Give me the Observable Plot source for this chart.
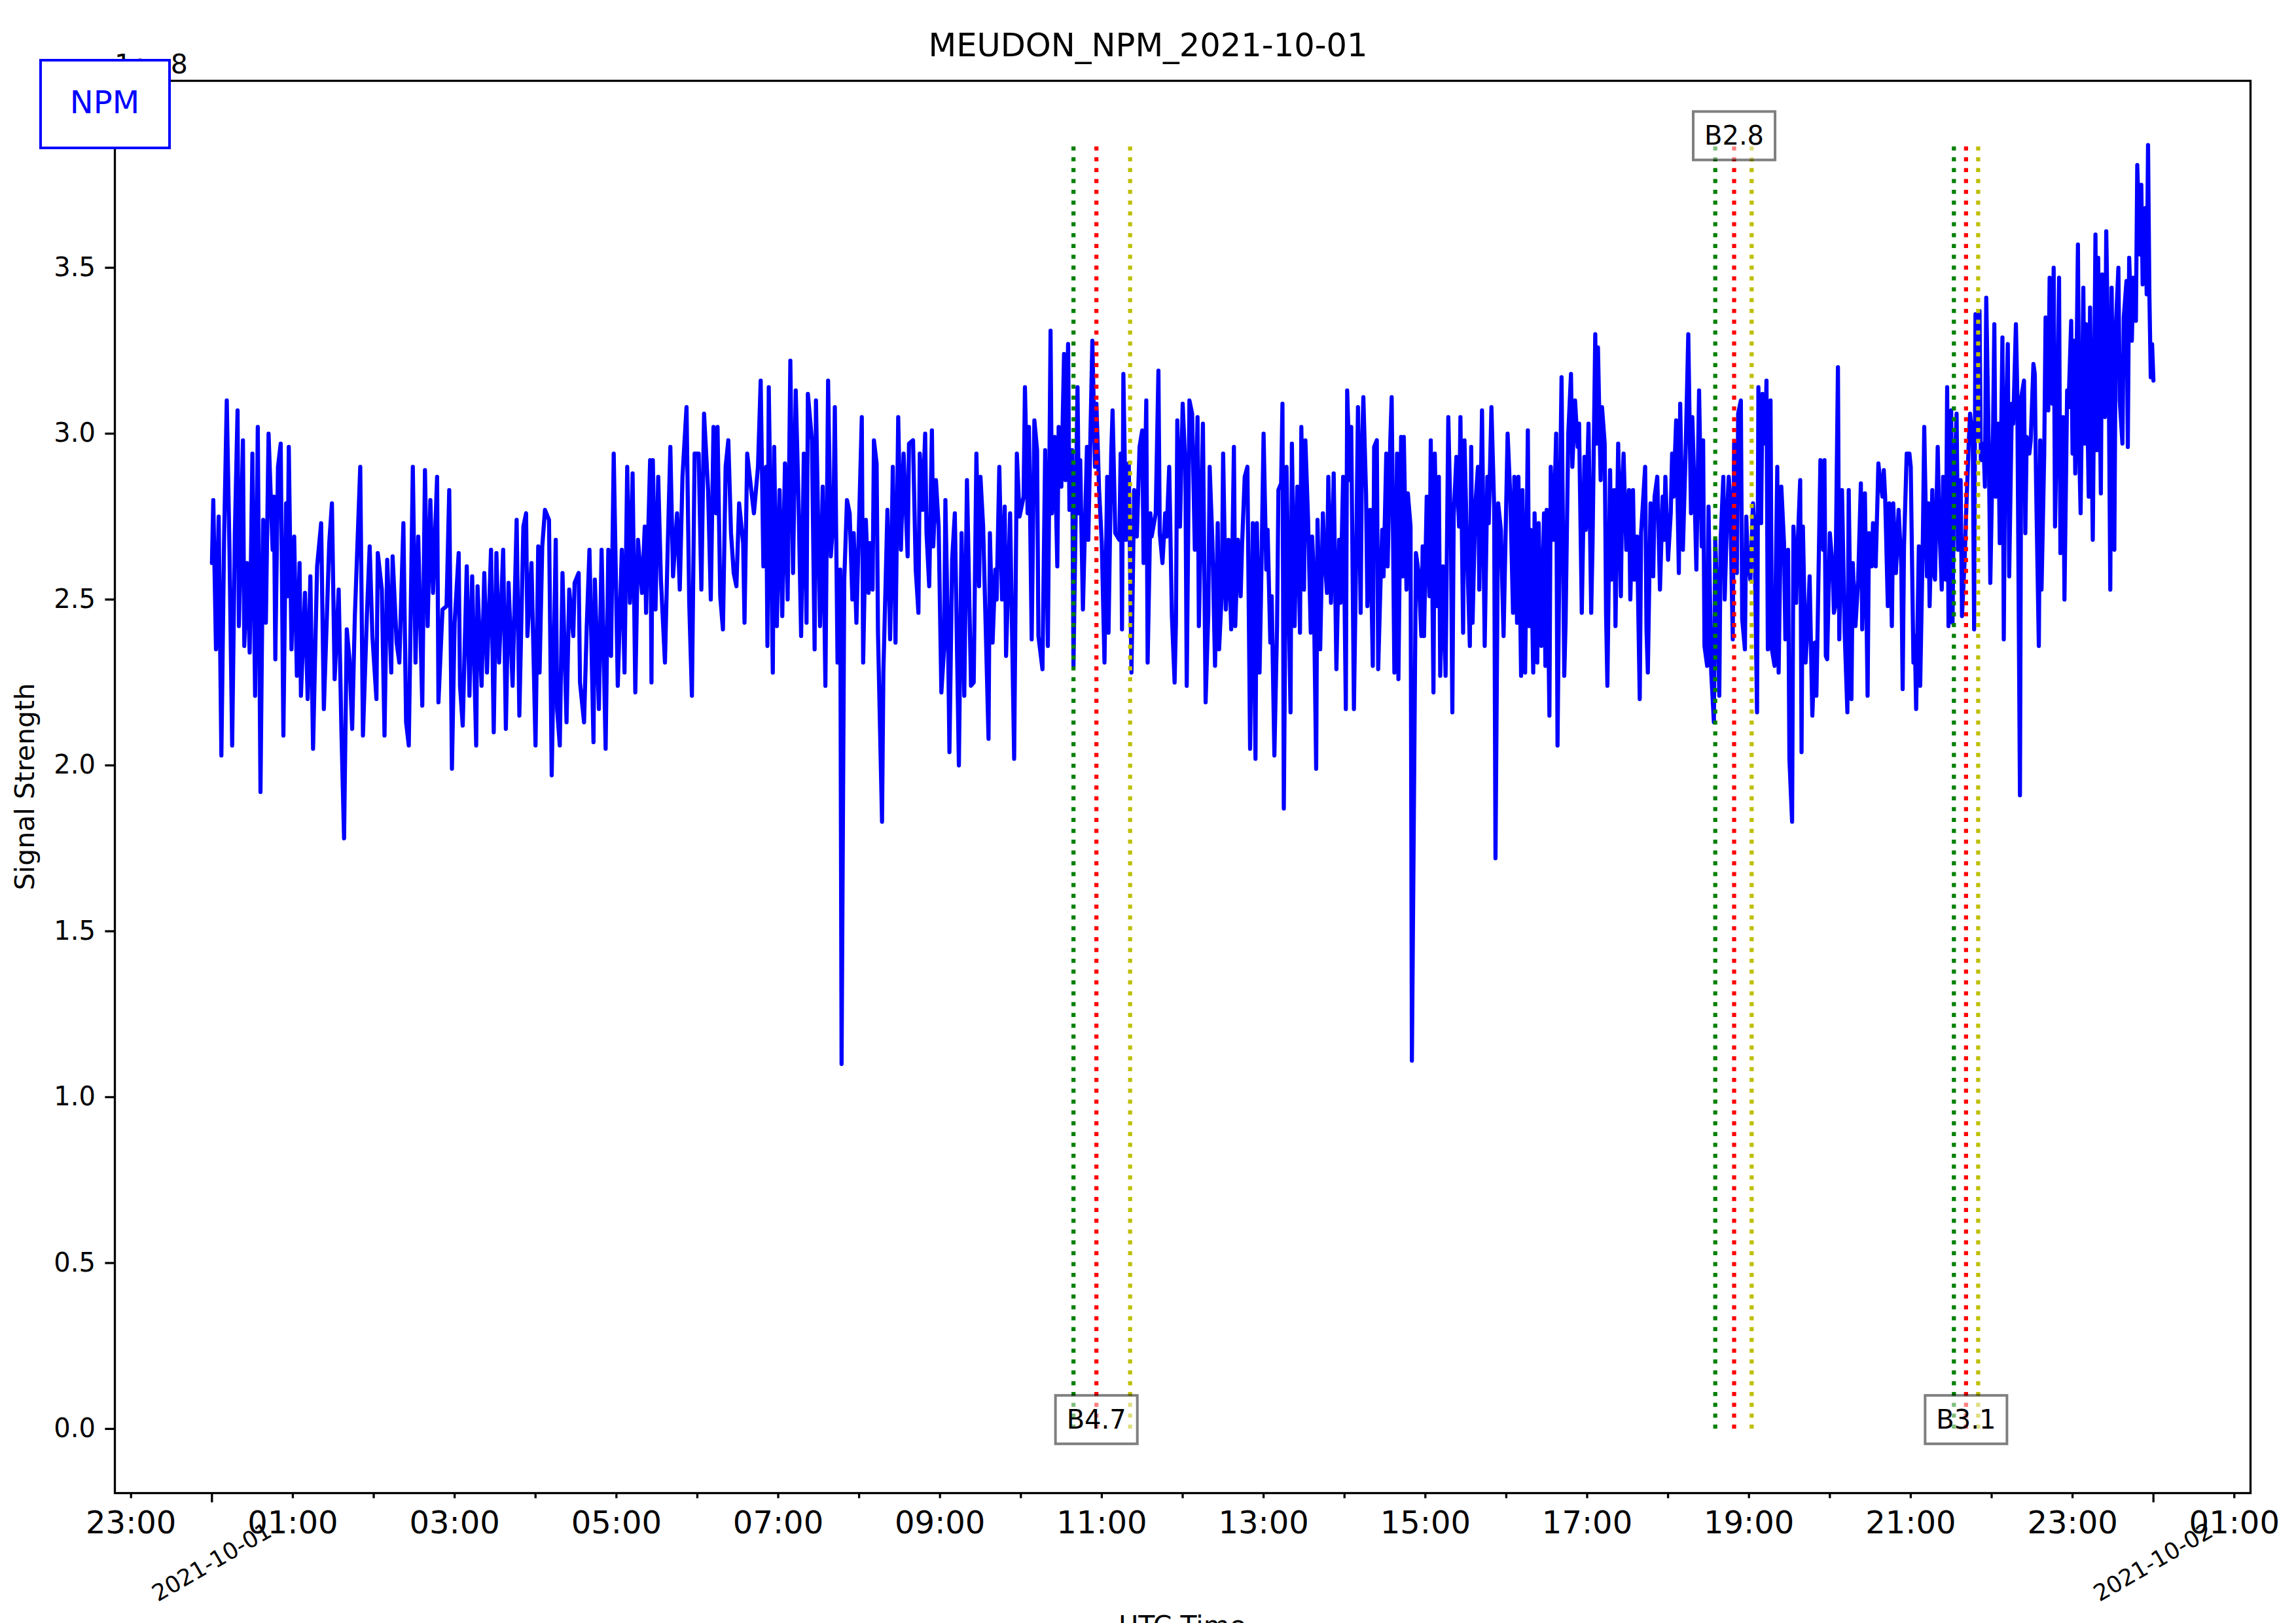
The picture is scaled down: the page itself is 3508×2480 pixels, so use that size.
<!DOCTYPE html>
<html>
<head>
<meta charset="utf-8">
<script src="https://cdn.jsdelivr.net/npm/d3@7"></script>
<script src="https://cdn.jsdelivr.net/npm/@observablehq/plot@0.6"></script>
<style>
html, body { margin: 0; padding: 0; background: #ffffff; overflow: hidden; }
#chart { width: 3508px; height: 2480px; }
</style>
</head>
<body>
<div id="chart"></div>
<script>
// ---------- DATA (minutes after 2021-10-01 00:00 UTC, signal in units of 1e-8) ----------
const signalNight = [
[0,2.61],[1,2.80],[3,2.35],[5,2.75],[7,2.03],[9,2.68],[11,3.10],[13,2.65],[15,2.06],[17,2.70],
[19,3.07],[20,2.42],[23,2.98],[24,2.36],[26,2.61],[28,2.34],[30,2.94],[32,2.21],[34,3.02],[36,1.92],
[38,2.74],[40,2.43],[42,3.00],[45,2.65],[46,2.81],[47,2.32],[49,2.90],[51,2.97],[53,2.09],[55,2.79],
[56,2.51],[57,2.96],[59,2.35],[61,2.69],[63,2.27],[65,2.61],[66,2.21],[69,2.52],[71,2.20],[73,2.57],
[75,2.05],[78,2.60],[81,2.73],[83,2.17],[87,2.67],[89,2.79],[91,2.26],[94,2.53],[96,2.11],[98,1.78],
[100,2.41],[102,2.32],[104,2.11],[106,2.45],[110,2.90],[112,2.09],[115,2.46],[117,2.66],[119,2.39],[122,2.20],
[123,2.64],[126,2.53],[128,2.09],[130,2.62],[133,2.28],[134,2.63],[137,2.37],[139,2.31],[142,2.73],[144,2.13],
[146,2.06],[149,2.90],[151,2.31],[153,2.69],[156,2.18],[158,2.89],[160,2.42],[162,2.80],[164,2.52],[167,2.87],
[168,2.19],[171,2.47],[174,2.48],[176,2.83],[178,1.99],[180,2.43],[183,2.64],[184,2.24],[186,2.12],[189,2.60],
[191,2.21],[193,2.57],[196,2.06],[197,2.54],[200,2.24],[202,2.58],[204,2.28],[207,2.65],[209,2.10],[211,2.64],
[213,2.31],[216,2.65],[218,2.11],[220,2.55],[223,2.24],[226,2.74],[228,2.15],[231,2.72],[233,2.76],[234,2.39],
[237,2.61],[240,2.06],[242,2.66],[243,2.28],[245,2.66],[247,2.77],[250,2.74],[252,1.97],[255,2.68],[256,2.17],
[258,2.06],[260,2.58],[263,2.13],[265,2.53],[268,2.39],[269,2.55],[272,2.58],[273,2.25],[276,2.13],[278,2.42],
[280,2.65],[283,2.07],[284,2.56],[287,2.17],[289,2.65],[292,2.05],[294,2.65],[296,2.33],[298,2.94],[301,2.24],
[304,2.65],[306,2.28],[308,2.90],[310,2.49],[312,2.88],[314,2.22],[316,2.68],[319,2.52],[321,2.72],[322,2.46],
[325,2.92],[326,2.25],[327,2.92],[329,2.47],[331,2.87],[333,2.56],[336,2.31],[338,2.65],[340,2.96],[342,2.57],
[345,2.76],[347,2.53],[349,2.87],[352,3.08],[354,2.49],[356,2.21],[358,2.94],[361,2.94],[363,2.53],[365,3.06],
[368,2.83],[370,2.50],[372,3.02],[374,2.76],[375,3.02],[377,2.51],[379,2.41],[381,2.90],[383,2.98],[385,2.70],
[387,2.58],[389,2.54],[391,2.79],[394,2.67],[395,2.43],[397,2.94],[400,2.83],[402,2.76],[405,2.90],[407,3.16],
[409,2.60],[411,2.90],[412,2.36],[413,3.14],[416,2.28],[417,2.96],[419,2.42],[421,2.83],[423,2.45],[425,2.91],
[427,2.50],[429,3.22],[431,2.58],[433,3.13],[435,2.81],[437,2.39],[439,2.94],[441,2.43],[442,3.12],[445,2.98],
[447,2.35],[448,3.10],[451,2.42],[453,2.84],[455,2.24],[457,3.16],[459,2.63],[461,2.75],[462,3.08],[464,2.31],
[466,2.59],[467,1.10]
];
const signalDay = [
[469,2.56],[471,2.80],[473,2.76],[475,2.50],[476,2.70],[478,2.43],[482,3.05],[483,2.31],[485,2.74],[487,2.52],
[488,2.67],[490,2.53],[491,2.98],[493,2.91],[494,2.40],[497,1.83],[498,2.28],[501,2.77],[503,2.38],[505,2.90],
[507,2.37],[509,3.05],[511,2.65],[513,2.94],[516,2.63],[517,2.97],[520,2.98],[522,2.59],[524,2.46],[525,2.94],
[527,2.77],[529,3.00],[530,2.70],[532,2.54],[534,3.01],[535,2.66],[537,2.86],[539,2.72],[541,2.22],[543,2.35],
[544,2.80],[546,2.37],[547,2.04],[549,2.62],[551,2.76],[554,2.00],[556,2.70],[558,2.21],[560,2.86],[563,2.24],
[565,2.25],[567,2.94],[569,2.54],[570,2.87],[572,2.72],[574,2.40],[576,2.08],[577,2.70],[579,2.37],[581,2.59],
[582,2.50],[584,2.90],[586,2.50],[588,2.78],[589,2.33],[592,2.76],[595,2.02],[597,2.94],[599,2.75],[602,2.81],
[603,3.14],[605,2.76],[606,3.02],[608,2.38],[610,3.04],[612,2.95],[613,2.39],[616,2.29],[618,2.95],[620,2.36],
[622,3.31],[623,2.76],[625,2.99],[627,2.60],[628,3.02],[630,2.84],[632,3.24],[633,2.86],[635,3.27],[636,2.77],
[638,2.95],[639,2.30],[642,3.14],[643,2.76],[644,2.92],[646,2.47],[649,2.96],[650,2.68],[653,3.28],[655,2.90],
[656,3.09],[658,2.83],[660,2.67],[662,2.31],[664,2.87],[665,2.40],[667,2.94],[668,3.07],[670,2.70],[673,2.68],
[674,2.94],[675,2.41],[676,3.18],[678,2.68],[680,2.91],[682,2.28],[684,2.83],[686,2.69],[688,2.96],[690,3.01],
[691,2.61],[693,3.10],[694,2.31],[696,2.76],[697,2.69],[700,2.76],[702,3.19],[703,2.70],[705,2.61],[707,2.76],
[708,2.69],[710,2.90],[712,2.45],[714,2.25],[715,2.43],[716,3.04],[718,2.72],[720,3.09],[722,2.90],[723,2.24],
[725,3.10],[727,3.06],[729,2.65],[731,3.05],[732,2.42],[735,3.03],[737,2.19],[739,2.46],[740,2.90],[742,2.68],
[744,2.30],[746,2.73],[747,2.35],[749,2.52],[750,2.94],[752,2.47],[754,2.68],[756,2.41],[758,2.96],[759,2.42],
[761,2.68],[763,2.51],[764,2.66],[766,2.87],[768,2.90],[770,2.05],[772,2.73],[774,2.02],[775,2.73],[777,2.28],
[778,2.49],[780,3.00],[782,2.59],[783,2.71],[785,2.37],[786,2.51],[788,2.03],[790,2.42],[791,2.83],[793,2.85],
[794,3.09],[795,1.87],[797,2.90],[800,2.16],[801,2.97],[803,2.42],[805,2.84],[807,2.40],[808,3.02],[810,2.53],
[811,2.98],[813,2.74],[815,2.40],[816,2.69],[817,2.60],[819,1.99],[820,2.74],[822,2.35],[824,2.76],[825,2.65],
[827,2.52],[828,2.87],[830,2.49],[832,2.88],[834,2.29],[836,2.68],[837,2.49],[839,2.87],[841,2.17],[842,3.13],
[844,2.86],[845,3.02],[847,2.17],[849,2.73],[850,3.08],[852,2.46],[853,2.95],[854,3.11],[856,2.82],[857,2.48],
[859,2.77],[861,2.30],[862,2.96],[864,2.98],[865,2.29],[867,2.59],[868,2.71],[869,2.57],[871,2.94],[872,2.60],
[874,2.98],[875,3.11],[877,2.28],[879,2.94],[880,2.26],[882,2.99],[883,2.57],[884,2.99],[886,2.53],[887,2.82],
[889,2.72],[890,1.11],[892,2.13],[893,2.64],[895,2.58],[897,2.39],[898,2.66],[899,2.39],[901,2.81],[903,2.51],
[904,2.98],[906,2.22],[907,2.94],[909,2.48],[910,2.87],[911,2.27],[913,2.60],[915,2.27],[917,3.05],[919,2.68],
[920,2.16],[921,2.75],[923,2.93],[925,2.72],[926,3.05],[928,2.40],[929,2.98],[931,2.64],[933,2.36],[934,2.96],
[935,2.43],[937,2.78],[939,2.90],[940,2.53],[942,3.07],[944,2.36],[946,2.87],[947,2.73],[949,3.08],[951,2.78],
[952,1.72],[954,2.79],[956,2.71],[958,2.39],[961,3.00],[963,2.81],[965,2.46],[966,2.87],[968,2.43],[969,2.87],
[971,2.27],[972,2.83],[974,2.28],[976,3.01],[977,2.42],[978,2.71],[980,2.28],[981,2.76],[983,2.31],[984,2.73],
[986,2.36],[988,2.76],[989,2.30],[990,2.77],[992,2.15],[993,2.90],[995,2.68],[997,3.00],[998,2.06],[1000,2.87],
[1001,3.17],[1003,2.27],[1004,2.43],[1006,3.00],[1008,3.18],[1009,2.90],[1011,3.10],[1013,2.96],[1014,3.03],[1016,2.46],
[1018,2.93],[1019,2.71],[1021,3.03],[1023,2.46],[1024,2.67],[1026,3.30],[1027,2.97]
];
const signalEvening = [
[1028,3.26],[1030,2.86],[1031,3.08],[1033,2.97],[1034,2.46],[1035,2.24],[1037,2.89],[1038,2.56],[1040,2.83],[1041,2.42],
[1043,2.97],[1045,2.51],[1046,2.84],[1047,2.94],[1049,2.65],[1051,2.83],[1052,2.50],[1054,2.83],[1055,2.56],[1057,2.69],
[1059,2.20],[1060,2.70],[1063,2.90],[1064,2.41],[1065,2.28],[1067,2.79],[1069,2.57],[1070,2.81],[1072,2.87],[1074,2.53],
[1076,2.81],[1077,2.68],[1078,2.87],[1080,2.62],[1082,2.76],[1083,2.94],[1084,2.81],[1086,3.04],[1088,2.58],[1089,3.09],
[1091,2.65],[1093,2.94],[1095,3.30],[1097,2.76],[1098,3.05],[1100,2.76],[1101,2.59],[1103,3.13],[1105,2.66],[1106,2.98],
[1107,2.36],[1109,2.30],[1110,2.78],[1112,2.28],[1114,2.13],[1115,2.68],[1116,2.56],[1118,2.21],[1119,2.68],[1121,2.87],
[1122,2.50],[1124,2.78],[1125,2.87],[1126,2.81],[1128,2.38],[1129,2.97],[1131,2.58],[1132,3.06],[1134,3.10],[1135,2.44],
[1137,2.35],[1138,2.75],[1139,2.63],[1141,2.56],[1143,2.79],[1144,2.72],[1146,2.16],[1147,3.14],[1149,2.73],[1150,3.12],
[1152,2.97],[1153,3.16],[1154,2.35],[1156,3.10],[1157,2.35],[1159,2.30],[1161,2.90],[1162,2.28],[1164,2.84],[1166,2.67],
[1167,2.38],[1169,2.65],[1170,2.02],[1172,1.83],[1173,2.72],[1175,2.49],[1176,2.65],[1178,2.86],[1179,2.04],[1180,2.72],
[1182,2.31],[1184,2.46],[1185,2.57],[1187,2.15],[1189,2.37],[1190,2.21],[1191,2.43],[1193,2.92],[1195,2.65],[1196,2.92],
[1197,2.33],[1198,2.32],[1200,2.70],[1202,2.60],[1203,2.46],[1204,2.48],[1206,3.20],[1207,2.38],[1209,2.83],[1211,2.40],
[1213,2.16],[1214,2.83],[1216,2.20],[1217,2.61],[1219,2.42],[1221,2.56],[1223,2.85],[1224,2.41],[1226,2.82],[1228,2.21],
[1229,2.70],[1231,2.60],[1232,2.73],[1234,2.60],[1236,2.91],[1237,2.87],[1239,2.81],[1240,2.89],[1241,2.81],[1243,2.48],
[1244,2.79],[1246,2.42],[1247,2.79],[1249,2.58],[1251,2.77],[1253,2.60],[1254,2.23],[1255,2.66],[1257,2.94],[1259,2.94],
[1260,2.90],[1262,2.31],[1263,2.39],[1264,2.17],[1266,2.66],[1267,2.24],[1269,2.69],[1270,3.02],[1272,2.57],[1273,2.79],
[1274,2.48],[1276,2.83],[1277,2.58],[1278,2.56],[1280,2.96],[1281,2.75],[1283,2.53],[1284,2.87],[1286,2.56],[1287,3.14],
[1288,2.42],[1290,3.07],[1291,2.43],[1292,2.81],[1294,3.06],[1295,2.65],[1297,2.86],[1298,2.45],[1300,2.62],[1301,2.75],
[1303,2.97],[1304,3.06],[1306,2.98],[1307,2.41],[1308,3.36],[1310,2.98],[1311,3.37],[1312,2.92],[1314,2.97],[1315,2.84],
[1316,3.41],[1318,2.92],[1319,2.55],[1321,3.00],[1322,3.33],[1323,2.81],[1325,3.03],[1326,2.67],[1328,3.29],[1329,2.38],
[1330,2.94],[1332,3.27],[1333,2.57],[1335,3.09],[1336,3.03],[1338,3.33],[1339,3.13],[1341,1.91],[1342,3.11],[1344,3.16],
[1345,2.70],[1346,2.99],[1348,2.94],[1349,2.98],[1351,3.21],[1352,3.18],[1353,2.84],[1355,2.36],[1356,2.98],[1357,2.53],
[1359,2.94],[1360,3.35],[1362,3.07],[1363,3.47],[1365,3.09],[1366,3.50],[1367,2.72],[1369,3.16],[1370,3.47],[1371,2.64],
[1373,3.05],[1374,2.50],[1376,3.13],[1377,3.08],[1379,3.34],[1380,2.94],[1381,3.28],[1382,2.88],[1384,3.57],[1385,2.94],
[1386,2.76],[1388,3.44],[1389,2.97],[1390,3.33],[1392,2.81],[1393,3.38],[1395,2.68],[1397,3.60],[1398,2.95],[1399,3.53],
[1401,2.82],[1402,3.48],[1404,3.05],[1405,3.61],[1407,3.09],[1408,2.53],[1409,3.44],[1411,2.65],[1412,3.31],[1414,3.50],
[1415,3.10],[1417,2.97],[1418,3.35],[1420,3.46],[1421,2.96],[1422,3.53],[1424,3.28],[1425,3.47],[1427,3.34],[1428,3.81],
[1430,3.54],[1431,3.75],[1432,3.45],[1434,3.68],[1435,3.42],[1436,3.87],[1437,3.42],[1438,3.17],[1439,3.27],[1440,3.16]
];

// Flare events (UTC times)
const flareNames = ["B4.7", "B2.8", "B3.1"];
const flareStart = ["10:39", "18:35", "21:32"];
const flarePeak  = ["10:56", "18:49", "21:41"];
const flareEnd   = ["11:21", "19:02", "21:50"];
const flareLabelLevel = [0, 3.87, 0];

// Axes
const yTicks = [0, 0.5, 1.0, 1.5, 2.0, 2.5, 3.0, 3.5];
const hourLabelTicks = [
  "2021-09-30T23:00Z", "2021-10-01T01:00Z", "2021-10-01T03:00Z", "2021-10-01T05:00Z",
  "2021-10-01T07:00Z", "2021-10-01T09:00Z", "2021-10-01T11:00Z", "2021-10-01T13:00Z",
  "2021-10-01T15:00Z", "2021-10-01T17:00Z", "2021-10-01T19:00Z", "2021-10-01T21:00Z",
  "2021-10-01T23:00Z", "2021-10-02T01:00Z"
];
const dayTicks = ["2021-10-01T00:00Z", "2021-10-02T00:00Z"];
const xDomain = ["2021-09-30T22:48Z", "2021-10-02T01:12Z"];
const titleText = "MEUDON_NPM_2021-10-01";
const legendLabel = "NPM";
const yLabel = "Signal Strength";
const xLabel = "UTC Time";
const offsetLabel = "1e\u22128";

// ---------- BUILD ----------
const t0 = Date.UTC(2021, 9, 1, 0, 0);
const samples = [...signalNight, ...signalDay, ...signalEvening];
const data = samples.map(([m, v]) => ({time: new Date(t0 + m * 60000), value: v}));
const vmax = d3.max(samples, d => d[1]);
const atTime = s => { const [h, m] = s.split(":").map(Number); return new Date(t0 + (h * 60 + m) * 60000); };
const flares = flareNames.map((name, i) => ({
  name, start: atTime(flareStart[i]), peak: atTime(flarePeak[i]), end: atTime(flareEnd[i]), level: flareLabelLevel[i]
}));
const hourLabels = hourLabelTicks.map(s => new Date(s));
const days = dayTicks.map(s => new Date(s));
const hourMarks = d3.utcHour.range(new Date("2021-09-30T23:00Z"), new Date("2021-10-02T01:30Z"))
  .filter(d => d.getUTCHours() !== 0);

const W = 3508, H = 2480;
const mL = 175, mR = 70, mT = 123, mB = 199;
const dotted = {strokeWidth: 6.25, strokeDasharray: "6.25,10.3"};

const svg = Plot.plot({
  width: W, height: H,
  marginLeft: mL, marginRight: mR, marginTop: mT, marginBottom: mB,
  style: {fontFamily: "DejaVu Sans", background: "#ffffff", color: "#000000", overflow: "hidden"},
  x: {type: "utc", domain: xDomain.map(s => new Date(s)), label: null},
  y: {domain: [-0.1935, 4.0635], label: null},
  marks: [
    Plot.line(data, {x: "time", y: "value", stroke: "#0000ff", strokeWidth: 6.25, strokeLinejoin: "round"}),
    Plot.ruleX(flares, {x: "start", y1: 0, y2: vmax, stroke: "#008000", ...dotted}),
    Plot.ruleX(flares, {x: "peak", y1: 0, y2: vmax, stroke: "#ff0000", ...dotted}),
    Plot.ruleX(flares, {x: "end", y1: 0, y2: vmax, stroke: "#bfbf00", ...dotted}),
    Plot.text(flares, {x: "peak", y: "level", text: "name", fontSize: 40, fill: "#000000", dy: -13, lineAnchor: "middle"}),
    Plot.frame({stroke: "#000000", strokeWidth: 3.3}),
    Plot.axisY({ticks: yTicks, tickFormat: d => d.toFixed(1), tickSize: 14.6, tickPadding: 15, fontSize: 40, strokeWidth: 3.3, label: null}),
    Plot.axisX({ticks: hourMarks, tickSize: 8.3, tickFormat: () => "", strokeWidth: 3.3, label: null}),
    Plot.axisX({ticks: hourLabels, tickSize: 0, tickPadding: 27, tickFormat: d3.utcFormat("%H:%M"), fontSize: 48, label: null}),
    Plot.axisX({ticks: days, tickSize: 14.6, tickFormat: () => "", strokeWidth: 3.3, label: null}),
    Plot.text(days, {x: d => d, frameAnchor: "bottom", dy: 106, rotate: -30, text: d3.utcFormat("%Y-%m-%d"),
      fontSize: 35, textAnchor: "middle", lineAnchor: "middle", fill: "#000000"})
  ]
});

document.getElementById("chart").appendChild(svg);

// Boxes behind flare class labels
d3.select(svg).selectAll("text").each(function () {
  if (!flareNames.includes(this.textContent)) return;
  const bb = this.getBBox();
  const r = document.createElementNS("http://www.w3.org/2000/svg", "rect");
  r.setAttribute("x", bb.x - 17);
  r.setAttribute("y", bb.y - 14);
  r.setAttribute("width", bb.width + 34);
  r.setAttribute("height", bb.height + 28);
  r.setAttribute("fill", "#ffffff");
  r.setAttribute("fill-opacity", 0.5);
  r.setAttribute("stroke", "#000000");
  r.setAttribute("stroke-opacity", 0.5);
  r.setAttribute("stroke-width", 4);
  const tr = this.getAttribute("transform");
  if (tr) r.setAttribute("transform", tr);
  this.parentNode.insertBefore(r, this);
});

const s = d3.select(svg);
// Title
s.append("text").attr("x", W / 2).attr("y", 86).attr("text-anchor", "middle")
  .attr("font-size", 49.5).attr("fill", "#000").text(titleText);
// Offset text
s.append("text").attr("x", mL).attr("y", 112).attr("text-anchor", "start")
  .attr("font-size", 41).attr("fill", "#000").text(offsetLabel);
// Y label
s.append("text").attr("transform", `translate(52,${(mT + (H - mB)) / 2}) rotate(-90)`)
  .attr("text-anchor", "middle").attr("font-size", 41).attr("fill", "#000").text(yLabel);
// X label (partly cut at the bottom edge as in the reference)
s.append("text").attr("x", (mL + (W - mR)) / 2).attr("y", 2498).attr("text-anchor", "middle")
  .attr("font-size", 41).attr("fill", "#000").text(xLabel);
// Legend
const lg = s.append("g");
lg.append("rect").attr("x", 62).attr("y", 92).attr("width", 197).attr("height", 134)
  .attr("fill", "#ffffff").attr("stroke", "#0000ff").attr("stroke-width", 4);
lg.append("text").attr("x", 160).attr("y", 173).attr("text-anchor", "middle")
  .attr("font-size", 48).attr("fill", "#0000ff").text(legendLabel);
</script>
</body>
</html>
